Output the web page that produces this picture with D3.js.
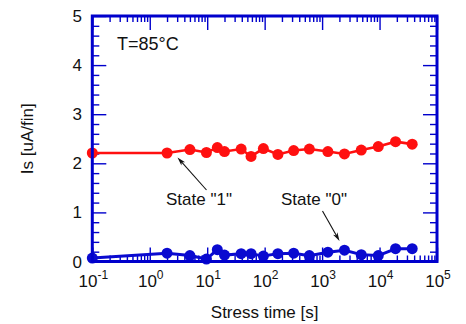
<!DOCTYPE html>
<html>
<head>
<meta charset="utf-8">
<script src="https://cdn.jsdelivr.net/npm/d3@7"></script>
<style>
  html, body { margin: 0; padding: 0; background: #fff; }
  svg { display: block; font-family: "Liberation Sans", Arial, sans-serif; }
</style>
</head>
<body>
<svg id="chart" width="466" height="324"></svg>
<script>
// Stress time [s] for each measurement
const stressTime = [0.1, 2, 5, 9.7, 15, 20, 39, 58, 95, 170, 320, 600, 1260, 2450, 4800, 9500, 19000, 37000];
// Read current per fin, state "1" and state "0"
const state1 = [2.21, 2.21, 2.28, 2.22, 2.32, 2.24, 2.29, 2.14, 2.30, 2.18, 2.26, 2.29, 2.24, 2.19, 2.27, 2.34, 2.44, 2.39];
const state0 = [0.07, 0.17, 0.12, 0.05, 0.24, 0.13, 0.16, 0.16, 0.11, 0.16, 0.17, 0.12, 0.19, 0.23, 0.14, 0.12, 0.26, 0.26];
// Axis ticks
const xDecades = [-1, 0, 1, 2, 3, 4, 5];
const yTicks = [0, 1, 2, 3, 4, 5];

const svg = d3.select("#chart");
const L = 92.3, R = 437, T = 16, B = 261.5;
const blue = "#0000cc", red = "#ff1010", lineBlue = "#0a0ad0";

const x = d3.scaleLog().domain([0.1, 1e5]).range([L, R]);
const y = d3.scaleLinear().domain([0, 5]).range([B, T]);

const xMajor = xDecades.map(e => Math.pow(10, e));
const xMinor = [];
for (let e = -1; e < 5; e++) for (let m = 2; m <= 9; m++) xMinor.push(m * Math.pow(10, e));
const yMinor = d3.range(0, 5.001, 0.2).filter(v => Math.abs(v - Math.round(v)) > 1e-6);

function tickAxis(axisFn, scale, values, size, tx, ty) {
  const g = svg.append("g").attr("transform", `translate(${tx},${ty})`)
    .call(axisFn(scale).tickValues(values).tickSize(size).tickFormat(""));
  g.select(".domain").remove();
  g.selectAll(".tick line").attr("stroke", blue).attr("stroke-width", 1.4);
  return g;
}
// inward ticks on all four sides
tickAxis(d3.axisBottom, x, xMajor, -14, 0, B);
tickAxis(d3.axisBottom, x, xMinor, -6, 0, B);
tickAxis(d3.axisTop, x, xMajor, -14, 0, T);
tickAxis(d3.axisTop, x, xMinor, -6, 0, T);
tickAxis(d3.axisLeft, y, yTicks, -14, L, 0);
tickAxis(d3.axisLeft, y, yMinor, -7, L, 0);
tickAxis(d3.axisRight, y, yTicks, -14, R, 0);
tickAxis(d3.axisRight, y, yMinor, -7, R, 0);

// y tick labels
svg.append("g").selectAll("text").data(yTicks).join("text")
  .attr("x", 82).attr("y", d => y(d) + 6)
  .attr("text-anchor", "end").attr("font-size", 17).attr("fill", "#111")
  .text(d => d);

// x tick labels as powers of ten
const xl = svg.append("g").selectAll("text").data(xDecades).join("text")
  .attr("x", d => x(Math.pow(10, d)) + 1).attr("y", 287)
  .attr("text-anchor", "middle").attr("font-size", 17).attr("fill", "#111");
xl.append("tspan").text("10");
xl.append("tspan").attr("dy", -8).attr("font-size", 12).text(d => d);

// axis titles
svg.append("text").attr("x", (L + R) / 2).attr("y", 318)
  .attr("text-anchor", "middle").attr("font-size", 17).attr("fill", "#111")
  .text("Stress time [s]");
svg.append("text")
  .attr("transform", `translate(33,${(T + B) / 2}) rotate(-90)`)
  .attr("text-anchor", "middle").attr("font-size", 17).attr("fill", "#111")
  .text("Is [uA/fin]");

// series
const line = d3.line().x(d => x(d[0])).y(d => y(d[1]));
function series(vals, color, width) {
  const pts = stressTime.map((t, i) => [t, vals[i]]);
  svg.append("path").datum(pts).attr("d", line)
    .attr("fill", "none").attr("stroke", color).attr("stroke-width", width);
  svg.append("g").selectAll("circle").data(pts).join("circle")
    .attr("cx", d => x(d[0])).attr("cy", d => y(d[1])).attr("r", 5.5)
    .attr("fill", color);
}
series(state0, lineBlue, 3);
series(state1, red, 2.6);

// frame
svg.append("rect").attr("x", L).attr("y", T).attr("width", R - L).attr("height", B - T)
  .attr("fill", "none").attr("stroke", blue).attr("stroke-width", 3);

// annotations
svg.append("text").attr("x", 117).attr("y", 50).attr("font-size", 18).attr("fill", "#111")
  .text("T=85°C");

function arrow(x1, y1, x2, y2) {
  const ang = Math.atan2(y2 - y1, x2 - x1);
  const len = 9, half = 0.28;
  svg.append("line").attr("x1", x1).attr("y1", y1).attr("x2", x2 - Math.cos(ang) * 4).attr("y2", y2 - Math.sin(ang) * 4)
    .attr("stroke", "#111").attr("stroke-width", 1.1);
  const p = [
    [x2, y2],
    [x2 - len * Math.cos(ang - half), y2 - len * Math.sin(ang - half)],
    [x2 - len * 0.7 * Math.cos(ang), y2 - len * 0.7 * Math.sin(ang)],
    [x2 - len * Math.cos(ang + half), y2 - len * Math.sin(ang + half)]
  ];
  svg.append("path").attr("d", "M" + p.join("L") + "Z").attr("fill", "#111");
}
svg.append("text").attr("x", 166).attr("y", 205).attr("font-size", 17).attr("fill", "#111").text('State "1"');
arrow(206.5, 190, 177.5, 157.5);
svg.append("text").attr("x", 281).attr("y", 205).attr("font-size", 17).attr("fill", "#111").text('State "0"');
arrow(322.5, 211, 339.5, 241);
</script>
</body>
</html>
